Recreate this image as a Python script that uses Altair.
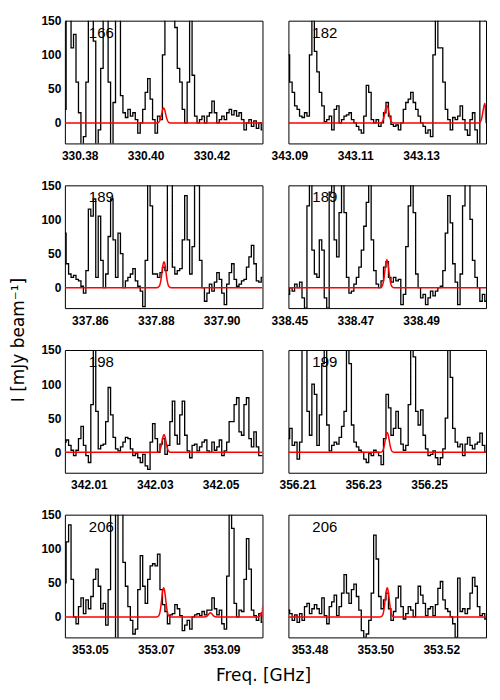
import altair as alt
import pandas as pd

STEP = 0.00075  # channel width in GHz
Y_TICKS = [0, 50, 100, 150]

# ---- spectra (black), one value per channel, mJy/beam ----
v166 = [20, 160, 170, 110, 130, 60, 15, -35, -20, 60, 170, 190, 120, -35, -10, 80, 180, 170, 60, -35,
        30, 170, 160, 40, 15, 8, 20, 10, 15, 5, -15, 0, 20, 45, 65, 35, 5, -15, 10, 5,
        100, 180, 200, 200, 190, 140, 80, 60, 20, 0, 60, 180, 70, 10, 0, 5, 10, 0, 10, 15,
        32, 15, 0, 5, 10, 5, 15, 20, 12, 18, 10, 15, 5, -10, 0, 5, -5, 3, -8, 0, -10]
v182 = [100, 60, 45, 25, 20, 10, 8, 15, 10, 100, 160, 105, 75, 45, 25, 2, 5, 10, -10, 20,
        25, 0, 5, 10, 12, 15, 5, 0, -5, -10, -15, 10, 55, 45, 5, 0, 5, -5, 0, 15,
        30, 10, -2, -5, -3, -10, 0, 20, 30, 35, 45, 30, 20, 10, 0, -5, -15, -10, -20, 100,
        180, 110, 110, 60, 20, 5, -10, 8, 5, 10, 25, 5, -10, -18, 5, 15, -10, -35, 180, 180, 150]
v189a = [80, 35, 20, 15, 18, 12, 10, 2, -8, 25, 115, 105, 130, 15, 105, 40, 0, 20, 75, 130,
         70, 15, 80, 50, 0, 10, 15, 20, 28, 10, 2, -5, -28, 40, 180, 120, 20, 20, 15, 22,
         30, 25, 180, 170, 30, 20, 25, 28, 70, 135, 70, 20, 60, 180, 150, 40, 0, -20, -8, 5,
         -5, 8, 22, 12, -8, -25, 5, 22, 35, 12, 2, 5, 10, 12, 30, 45, 62, 35, 10, 8, 15]
v189b = [-10, 0, -5, 5, 0, 8, -15, -30, 120, 180, 55, 20, 15, 70, 55, -15, -30, 140, 180, 70,
         45, 110, 180, 110, 15, -8, -5, 5, 15, 30, 55, 90, 125, 180, 70, 25, 5, 0, 10, 30,
         38, 15, 8, 15, 10, 12, -25, -10, 60, 120, 180, 110, 20, 0, -15, -10, -25, -15, -5, -12,
         -5, 0, 2, 25, 80, 135, 95, 35, 8, -25, 20, 120, 180, 160, 100, 40, 15, 0, -20, -10, -20]
v198 = [15, 18, 10, 3, -5, 3, 20, 38, 10, -5, -15, 70, 155, 60, 5, 10, 12, 45, 95, 55,
        22, 5, 2, 8, 15, 22, 20, 5, -5, -2, -8, -15, -3, -20, -25, 15, 42, 20, 0, 12,
        20, -3, 10, 45, 75, 25, 12, 55, 75, 25, 2, -8, 10, 12, 2, 8, 15, 18, 2, 0,
        15, 3, 8, 18, -5, 2, 15, 45, 45, 70, 80, 30, 25, 70, 80, 20, 8, 30, 8, -5, -5]
v199 = [20, 35, 10, 15, -10, 15, 170, 165, 60, 25, 100, 85, 10, 55, 130, 170, 40, 2, 10, 15,
        12, 22, 38, 60, 180, 130, 40, 15, 8, 3, 0, -10, -15, -2, -5, 3, 0, -5, -18, 20,
        85, 65, 25, 35, 60, 35, 12, 3, 10, 70, 160, 140, 60, 40, 62, 25, 5, -5, -3, 2,
        -8, -18, -8, 5, 50, 160, 110, 35, 15, 8, 12, -5, 12, 22, 10, 5, 12, 15, 28, 10, 0]
v206a = [50, 110, 135, 55, 0, -10, 15, 28, 5, 25, 12, 30, 55, 70, 45, 12, 20, -12, 40, 170,
         170, -35, 170, 160, 80, 45, 15, -5, -25, -18, 40, 90, 45, 20, 55, 75, 78, 75, 92, 40,
         18, 8, -10, 3, 5, 18, 12, 2, -20, -12, -5, -18, 0, 3, 5, 2, 8, 3, 10, 10,
         28, 12, 3, 10, -10, -18, 60, 170, 130, 20, 0, 10, 8, 55, 115, 70, 10, 2, -5, 5, -8]
v206b = [10, 5, -5, 3, -8, 5, -5, 15, 20, 5, 12, 18, 12, 5, 28, 2, -10, 15, 22, 32,
         2, 15, 35, 62, 35, 20, 40, 48, 30, 10, -20, -30, -25, -5, 35, 120, 85, 30, 12, 25,
         35, 12, -5, 8, 28, 45, 15, -3, 5, 15, 10, 0, 20, 45, 32, 20, 2, 12, 15, 2,
         18, 42, 52, 25, 12, 8, 0, -10, -30, 57, 8, 12, 5, 12, 35, 58, 45, 15, 2, 5, -3]

# ---- panel definitions ----
labels = ["166", "182", "189", "189", "198", "199", "206", "206"]
lows = [330.3755, 343.0897, 337.8524, 338.4497, 342.0027, 356.2073, 353.0424, 353.4736]
ticks = [[330.38, 330.40, 330.42], [343.09, 343.11, 343.13], [337.86, 337.88, 337.90],
         [338.45, 338.47, 338.49], [342.01, 342.03, 342.05], [356.21, 356.23, 356.25],
         [353.05, 353.07, 353.09], [353.48, 353.50, 353.52]]
spectra = [v166, v182, v189a, v189b, v198, v199, v206a, v206b]

# red model lines: centres (GHz) and amplitudes (mJy/beam)
red_centres = [[330.4055], [343.1196, 343.1494], [337.8825], [338.4796], [342.0328],
               [356.2373], [353.0724, 353.0866, 353.1030], [353.5036]]
red_amps = [[22], [26, 29], [38], [41], [26], [29], [43, 6, 20], [43]]
# typed model profile (offset in GHz, relative height)
prof_off = [-0.0021, -0.0015, -0.0009, -0.0006, -0.0003, 0.0, 0.0003, 0.0006, 0.0009, 0.0015, 0.0021]
prof_rel = [0.0, 0.04, 0.32, 0.61, 0.88, 1.0, 0.88, 0.61, 0.32, 0.04, 0.0]

WIDTH = 0.06
FONT = "Liberation Sans"


def panel(k, left):
    lo = lows[k]
    hi = lo + WIDTH
    vals = spectra[k]
    df = pd.DataFrame({"f": [lo + i * STEP for i in range(len(vals))], "v": vals})
    pts = [(lo, 0.0), (hi, 0.0)]
    for c, a in zip(red_centres[k], red_amps[k]):
        pts += [(c + o, a * r) for o, r in zip(prof_off, prof_rel)]
    pts.sort()
    dr = pd.DataFrame({"f": [p[0] for p in pts], "v": [p[1] for p in pts]})

    xs = alt.Scale(domain=[lo, hi], nice=False, zero=False)
    ys = alt.Scale(domain=[-30, 150], nice=False, zero=False)
    xa = alt.Axis(values=ticks[k], format=".2f", title=None, ticks=False, domain=False, grid=False,
                  labelPadding=7, labelFont=FONT, labelFontWeight="bold", labelFontSize=12,
                  labelColor="black", labelOverlap=False, labelFlush=False)
    ya = alt.Axis(values=Y_TICKS, title=None, ticks=False, domain=False, grid=False,
                  labels=left, labelPadding=4, labelFont=FONT, labelFontWeight="bold",
                  labelFontSize=12, labelColor="black", labelFlush=False)

    black = alt.Chart(df).mark_line(interpolate="step", color="black", strokeWidth=1.3, clip=True).encode(
        x=alt.X("f:Q", scale=xs, axis=xa),
        y=alt.Y("v:Q", scale=ys, axis=ya),
    )
    red = alt.Chart(dr).mark_line(interpolate="monotone", color="#ff0000", strokeWidth=1.5, clip=True).encode(
        x=alt.X("f:Q", scale=xs, axis=xa),
        y=alt.Y("v:Q", scale=ys, axis=ya),
    )
    txt = alt.Chart(pd.DataFrame({"t": [labels[k]]})).mark_text(
        align="left", baseline="alphabetic", fontSize=15, font=FONT, color="black"
    ).encode(x=alt.value(24), y=alt.value(17), text="t:N")
    return alt.layer(black, red, txt).properties(width=198, height=123)


rows = []
for r in range(4):
    rows.append(alt.hconcat(panel(2 * r, True), panel(2 * r + 1, False), spacing=26, bounds="flush"))

inner = alt.vconcat(*rows, spacing=16,
                    title=alt.TitleParams("Freq. [GHz]", orient="bottom", anchor="middle",
                                          font="DejaVu Sans", fontSize=17, fontWeight="normal",
                                          color="black", offset=12))

chart = alt.vconcat(inner, title=alt.TitleParams("I [mJy beam⁻¹]", orient="left", anchor="middle",
                                                 font="DejaVu Sans", fontSize=17, fontWeight="normal",
                                                 color="black", offset=12, dx=9)).properties(
    padding={"left": 2, "top": 5, "right": 5, "bottom": 5}, background="white"
).configure_view(stroke="black", strokeWidth=1).configure_axis(grid=False)

chart.save("out.html", embed_options={"renderer": "svg", "actions": False})
